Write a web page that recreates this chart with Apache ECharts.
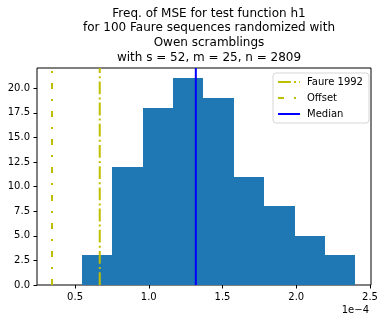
<!DOCTYPE html>
<html>
<head>
<meta charset="utf-8">
<script src="https://cdn.jsdelivr.net/npm/echarts@6/dist/echarts.min.js"></script>
<style>html,body{margin:0;padding:0;background:#fff}#c{width:385px;height:322px}</style>
</head>
<body>
<div id="c"></div>
<script>
// values in units of 1e-4
const binEdges = [0.546, 0.752, 0.958, 1.164, 1.370, 1.577, 1.783, 1.989, 2.195, 2.401];
const binCounts = [3, 12, 18, 21, 19, 11, 8, 5, 3];
const faureValue = 0.6675;
const offsetValue = 0.344;
const medianValue = 1.319;
const xTicks = [0.5, 1.0, 1.5, 2.0, 2.5];
const yTicks = [0, 2.5, 5, 7.5, 10, 12.5, 15, 17.5, 20];
const xMin = 0.242, xMax = 2.507, yMin = 0, yMax = 22.05;
const titleLines = ['Freq. of MSE for test function h1', 'for 100 Faure sequences randomized with', 'Owen scramblings', 'with s = 52, m = 25, n = 2809'];

const histData = binCounts.map((c, i) => [binEdges[i], binEdges[i + 1], c]);
const FONT = 'DejaVu Sans';

const chart = echarts.init(document.getElementById('c'), null, {renderer: 'canvas'});
chart.setOption({
  animation: false,
  backgroundColor: '#fff',
  textStyle: {fontFamily: FONT},
  title: {
    text: titleLines.join('\n'),
    left: 204, top: 1, textAlign: 'center',
    textStyle: {fontFamily: FONT, fontSize: 12, fontWeight: 'normal', color: '#000', lineHeight: 14.8}
  },
  grid: {left: 37, right: 14, top: 68, bottom: 37, show: true, borderColor: '#000', borderWidth: 1, backgroundColor: 'transparent'},
  xAxis: {
    type: 'value', min: xMin, max: xMax,
    splitLine: {show: false},
    axisLine: {show: false},
    axisTick: {show: true, length: 3.5, inside: false, customValues: xTicks, lineStyle: {color: '#000'}},
    axisLabel: {customValues: xTicks, margin: 7, fontSize: 10, color: '#000', fontFamily: FONT, formatter: v => v.toFixed(1)}
  },
  yAxis: {
    type: 'value', min: yMin, max: yMax,
    splitLine: {show: false},
    axisLine: {show: false},
    axisTick: {show: true, length: 3.5, inside: false, customValues: yTicks, lineStyle: {color: '#000'}},
    axisLabel: {customValues: yTicks, margin: 7, fontSize: 10, color: '#000', fontFamily: FONT, formatter: v => v.toFixed(1)}
  },
  legend: {
    orient: 'vertical', left: 273, top: 73,
    padding: [4, 6, 4, 4],
    itemWidth: 22, itemHeight: 8, itemGap: 6,
    backgroundColor: '#fff', borderColor: '#d6d6d6', borderWidth: 1, borderRadius: 3,
    itemStyle: {opacity: 0},
    textStyle: {fontFamily: FONT, fontSize: 10, color: '#000', padding: [0, 0, 0, 2]},
    data: ['Faure 1992', 'Offset', 'Median']
  },
  graphic: [{
    type: 'text', right: 16, top: 305,
    style: {text: '1e\u22124', fontFamily: FONT, fontSize: 10, fill: '#000'}
  }],
  series: [
    {
      type: 'custom', name: 'hist', z: 1,
      renderItem: (params, api) => {
        const p0 = api.coord([api.value(0), 0]);
        const p1 = api.coord([api.value(1), api.value(2)]);
        const x0 = Math.round(p0[0]), x1 = Math.round(p1[0]);
        const yb = Math.round(p0[1]), yt = Math.round(p1[1]);
        return {type: 'rect', shape: {x: x0, y: yt, width: x1 - x0, height: yb - yt}, style: {fill: '#1f77b4'}};
      },
      encode: {x: [0, 1], y: 2},
      data: histData
    },
    {
      type: 'line', name: 'Faure 1992', z: 3, symbol: 'none',
      lineStyle: {color: '#bfbf00', width: 2, type: [12.8, 3.2, 2, 3.2]},
      itemStyle: {color: '#bfbf00'},
      data: [[faureValue, yMin], [faureValue, yMax]]
    },
    {
      type: 'line', name: 'Offset', z: 3, symbol: 'none',
      lineStyle: {color: '#bfbf00', width: 2, type: [6, 10, 2, 10]},
      itemStyle: {color: '#bfbf00'},
      data: [[offsetValue, yMin], [offsetValue, yMax]]
    },
    {
      type: 'line', name: 'Median', z: 3, symbol: 'none',
      lineStyle: {color: '#0000ff', width: 2, type: 'solid'},
      itemStyle: {color: '#0000ff'},
      data: [[medianValue, yMin], [medianValue, yMax]]
    }
  ]
});
</script>
</body>
</html>
